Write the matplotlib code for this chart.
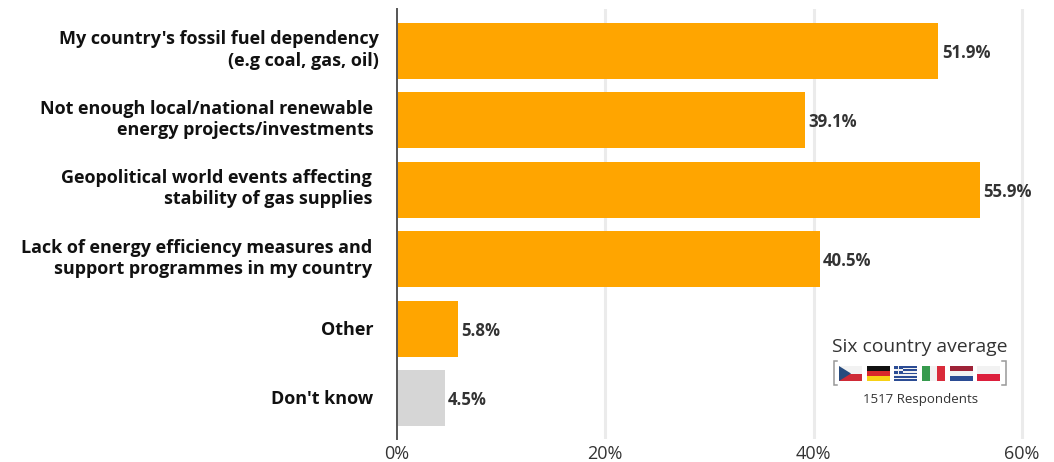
import matplotlib
matplotlib.use("Agg")
import matplotlib.pyplot as plt
from matplotlib.patches import Rectangle, Polygon
from matplotlib.transforms import Affine2D

categories = [
    "My country's fossil fuel dependency\n(e.g coal, gas, oil)",
    "Not enough local/national renewable\nenergy projects/investments",
    "Geopolitical world events affecting\nstability of gas supplies",
    "Lack of energy efficiency measures and\nsupport programmes in my country",
    "Other",
    "Don't know",
]
values = [51.9, 39.1, 55.9, 40.5, 5.8, 4.5]
bar_colors = ["#FFA500"] * 5 + ["#D6D6D6"]
label_right = [378.5, 373.5, 372, 372, 373.5, 373.5]
ticks = [0, 20, 40, 60]

W, H = 1054, 462
plt.rcParams["font.family"] = ["Open Sans", "DejaVu Sans"]
fig = plt.figure(figsize=(W / 100, H / 100), dpi=100, facecolor="white")

# Plot area placed in pixel terms: 0% at x=396.9, 10.415 px per percent
left, top, bottom = 396.9, 9, 439
ax = fig.add_axes([left / W, 1 - bottom / H, (W - left) / W, (bottom - top) / H])
ax.set_xlim(0, (W - left) / 10.415)
ax.set_ylim(bottom - top, 0)
for s in ["top", "right", "bottom"]:
    ax.spines[s].set_visible(False)
ax.spines["left"].set_color("#555555")
ax.spines["left"].set_linewidth(1.4)
ax.set_yticks([])
ax.set_xticks(ticks, [f"{t}%" for t in ticks])
ax.tick_params(axis="x", length=0, pad=4.4, labelsize=13, labelcolor="#333333")
ax.set_axisbelow(True)
ax.xaxis.grid(True, color="#EBEBEB", linewidth=2.2)
ax.xaxis.get_gridlines()[0].set_visible(False)

step = 69.4
centers = [(51 - top) + i * step for i in range(len(values))]
bars = ax.barh(centers, values, height=56, color=bar_colors, linewidth=0)
# Bars begin just right of the axis line
for b in bars:
    b.set_transform(ax.transData + Affine2D().translate(0.8, 0))
for y, v in zip(centers, values):
    ax.annotate(f"{v}%", (v, y), xytext=(3.1, -1.5), textcoords="offset points",
                va="center", ha="left", fontsize=12.1, fontweight="bold",
                color="#333333", annotation_clip=False)

# Overlay in pixel coordinates for category labels and the country key
ov = fig.add_axes([0, 0, 1, 1], facecolor="none")
ov.set_xlim(0, W)
ov.set_ylim(H, 0)
ov.axis("off")

for i, (cat, xr) in enumerate(zip(categories, label_right)):
    dy = -1 if "\n" in cat else 1
    ov.text(xr, centers[i] + top + dy, cat, ha="right", va="center", fontsize=13.0,
            fontweight="bold", color="#111111", linespacing=1.22)

ov.text(919.5, 347, "Six country average", ha="center", va="center",
        fontsize=13.85, color="#333333")
ov.text(920.5, 400, "1517 Respondents", ha="center", va="center",
        fontsize=9.55, color="#333333")

# Bracket around the flags
for pts in ([(837, 361), (833.5, 361), (833.5, 385), (837, 385)],
            [(1002, 361), (1005.5, 361), (1005.5, 385), (1002, 385)]):
    ov.plot(*zip(*pts), color="#999999", lw=1.1, solid_joinstyle="miter")


def stripes(x, cols, horizontal=True, y=366, w=23, h=15):
    n = len(cols)
    for i, c in enumerate(cols):
        if horizontal:
            ov.add_patch(Rectangle((x, y + i * h / n), w, h / n, fc=c, lw=0))
        else:
            ov.add_patch(Rectangle((x + i * w / n, y), w / n, h, fc=c, lw=0))


# Czech Republic
stripes(839, ["#F2F2F2", "#CF2A36"])
ov.add_patch(Polygon([(839, 366), (851, 373.5), (839, 381)], fc="#274B7E", lw=0))
# Germany
stripes(867, ["#111111", "#D8262C", "#F7D116"])
# Greece
stripes(894, ["#2B4C94", "#F2F2F2"] * 4 + ["#2B4C94"])
ov.add_patch(Rectangle((894, 366), 9, 8.3, fc="#2B4C94", lw=0))
ov.add_patch(Rectangle((897.6, 366), 1.8, 8.3, fc="#F2F2F2", lw=0))
ov.add_patch(Rectangle((894, 369.3), 9, 1.7, fc="#F2F2F2", lw=0))
# Italy
stripes(922, ["#379A4E", "#F2F2F2", "#D92B3A"], horizontal=False)
# Netherlands
stripes(950, ["#9E2338", "#F2F2F2", "#2B4C94"])
# Poland
stripes(977, ["#F2F2F2", "#DC1F3C"])

fig.savefig("out.png", dpi=100, facecolor="white")
